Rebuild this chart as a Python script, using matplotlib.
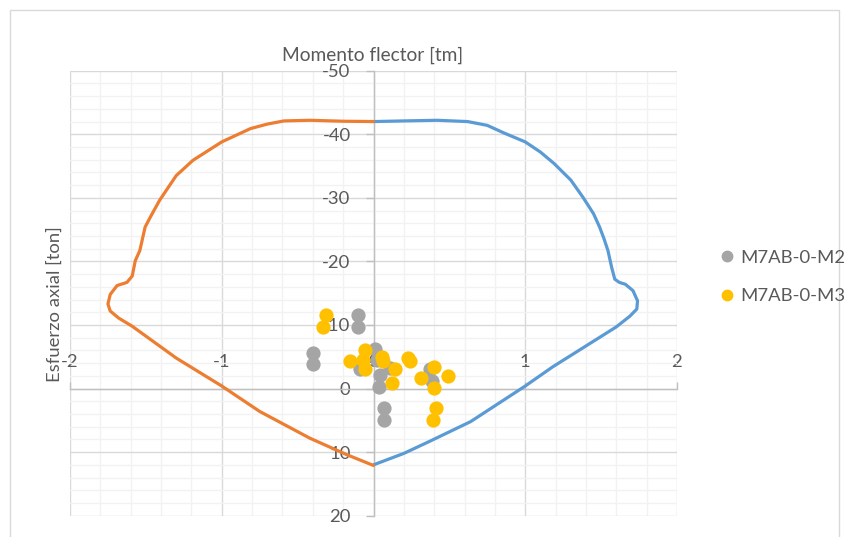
import matplotlib
matplotlib.use('Agg')
import matplotlib.pyplot as plt
from matplotlib.ticker import MultipleLocator
from matplotlib.lines import Line2D
from matplotlib.patches import Rectangle

# Interaction curve, positive moment side (blue)
pos_M = [0.0, 0.2, 0.42, 0.62, 0.75, 0.86, 1.0, 1.1, 1.19, 1.30, 1.38, 1.45, 1.49, 1.52,
         1.545, 1.57, 1.59, 1.62, 1.66, 1.71, 1.74, 1.735, 1.69, 1.60, 1.38, 1.18, 1.0,
         0.64, 0.37, 0.2, 0.0]
pos_P = [-42.0, -42.1, -42.2, -42.0, -41.4, -40.2, -38.8, -37.2, -35.4, -32.8, -30.1, -27.5,
         -25.4, -23.5, -21.7, -19.0, -17.2, -16.7, -16.4, -15.4, -13.8, -12.5, -11.4, -9.7,
         -6.4, -3.4, -0.4, 5.2, 8.3, 10.2, 12.0]

# Interaction curve, negative moment side (orange)
neg_M = [0.0, -0.2, -0.42, -0.59, -0.70, -0.81, -1.0, -1.19, -1.30, -1.41, -1.47, -1.505,
         -1.54, -1.57, -1.59, -1.625, -1.69, -1.735, -1.75, -1.735, -1.68, -1.59, -1.30,
         -1.0, -0.75, -0.42, -0.176, 0.0]
neg_P = [-42.0, -42.05, -42.2, -42.1, -41.6, -40.9, -38.8, -35.9, -33.5, -29.6, -27.0, -25.4,
         -21.7, -20.1, -17.7, -16.7, -16.2, -14.8, -13.3, -12.2, -11.1, -9.8, -4.8,
         -0.4, 3.6, 7.8, 10.4, 12.1]

# Measured points M7AB-0-M2 (gray)
m2_M = [-0.10, -0.10, -0.40, -0.40, 0.01, -0.09, 0.044, 0.033, 0.066, 0.066, 0.11, 0.37, 0.385, 0.02]
m2_P = [-11.6, -9.7, -5.6, -3.8, -6.2, -3.0, -2.2, -0.3, 3.1, 5.0, -3.3, -3.0, -1.2, -4.5]

# Measured points M7AB-0-M3 (yellow)
m3_M = [-0.31, -0.33, -0.154, -0.055, -0.055, -0.07, 0.055, 0.06, 0.143, 0.12, 0.23, 0.24,
        0.31, 0.40, 0.49, 0.40, 0.41, 0.39]
m3_P = [-11.6, -9.7, -4.3, -6.0, -3.0, -4.5, -5.0, -4.3, -3.0, -0.9, -4.8, -4.3,
        -1.6, -3.4, -1.9, -0.1, 3.1, 5.0]

series_names = ['M7AB-0-M2', 'M7AB-0-M3']
title = 'Momento flector [tm]'
ylabel = 'Esfuerzo axial [ton]'

plt.rcParams['font.family'] = ['Lato', 'DejaVu Sans']
plt.rcParams['axes.unicode_minus'] = False
txt = '#595959'

W, H = 849, 537
fig = plt.figure(figsize=(W / 100, H / 100), dpi=100)
ax = fig.add_axes([70 / W, 1 - 515.7 / H, 607 / W, 445 / H])
ax.set_xlim(-2, 2)
ax.set_ylim(20, -50)

ax.xaxis.set_major_locator(MultipleLocator(1))
ax.xaxis.set_minor_locator(MultipleLocator(0.2))
ax.yaxis.set_major_locator(MultipleLocator(10))
ax.yaxis.set_minor_locator(MultipleLocator(2))
ax.grid(which='minor', color='#F2F2F2', lw=1.0)
ax.grid(which='major', color='#D9D9D9', lw=1.0)
ax.set_axisbelow(True)

for s in ['bottom', 'right']:
    ax.spines[s].set_visible(False)
ax.spines['top'].set_position(('data', 0))
ax.spines['left'].set_position(('data', 0))
for s in ['top', 'left']:
    ax.spines[s].set_color('#BFBFBF')
    ax.spines[s].set_linewidth(1.0)
ax.xaxis.tick_top()
ax.tick_params(axis='x', which='major', direction='out', length=5, width=1,
               color='#BFBFBF', pad=8.5, labelsize=13.3, labelcolor=txt)
ax.tick_params(axis='y', which='major', direction='out', length=6, width=1,
               color='#BFBFBF', pad=10.5, labelsize=13.3, labelcolor=txt)
ax.tick_params(which='minor', length=0)
ax.set_xticks([-2, -1, 0, 1, 2])
ax.set_xticklabels(['-2', '-1', '0', '1', '2'])

ax.plot(pos_M, pos_P, color='#5B9BD5', lw=2.3, solid_capstyle='round', zorder=3)
ax.plot(neg_M, neg_P, color='#ED7D31', lw=2.3, solid_capstyle='round', zorder=3)
ax.scatter(m2_M, m2_P, s=105, color='#A5A5A5', linewidths=0, zorder=4)
ax.scatter(m3_M, m3_P, s=105, color='#FFC000', linewidths=0, zorder=5)

handles = [Line2D([], [], ls='none', marker='o', markersize=7.5, color='#A5A5A5'),
           Line2D([], [], ls='none', marker='o', markersize=7.5, color='#FFC000')]
fig.legend(handles, series_names, loc='center left',
           bbox_to_anchor=(718 / W, 1 - 277 / H), frameon=False, fontsize=13.3,
           labelcolor=txt, handlelength=1.0, handletextpad=0.2, labelspacing=1.2,
           borderpad=0, borderaxespad=0)

fig.text(373 / W, 1 - 55.7 / H, title, ha='center', va='center', fontsize=13.8, color=txt)
fig.text(55 / W, 1 - 304 / H, ylabel, ha='center', va='center', rotation=90,
         fontsize=13.3, color=txt)

fig.add_artist(Rectangle((10 / W, -0.02), 829 / W, (H - 10) / H + 0.02,
                         transform=fig.transFigure, fill=False, edgecolor='#D9D9D9', lw=1))

fig.savefig('out.png', dpi=100)
